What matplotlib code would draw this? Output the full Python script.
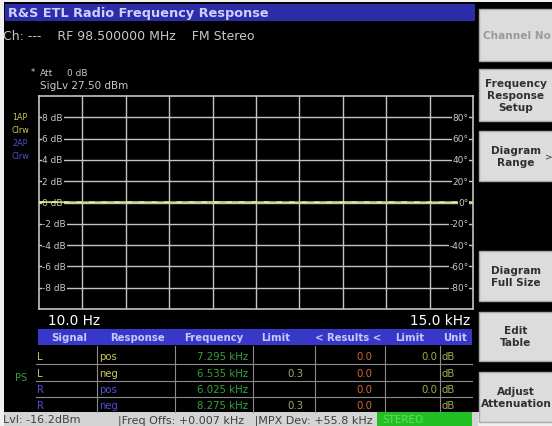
import matplotlib.pyplot as plt
from matplotlib.patches import Rectangle

W, H = 552, 427

# measured trace (frequency in Hz, level in dB)
freq_hz = [10, 500, 1500, 3000, 4500, 6000, 7500, 9000, 10500, 12000, 13500, 15000]
level_l = [0.05, 0.03, 0.02, 0.04, 0.02, 0.05, 0.03, 0.02, 0.04, 0.03, 0.02, 0.03]
level_r = [0.03, 0.04, 0.03, 0.02, 0.04, 0.03, 0.05, 0.03, 0.02, 0.04, 0.03, 0.02]

db_ticks = [8, 6, 4, 2, 0, -2, -4, -6, -8]
phase_ticks = [80, 60, 40, 20, 0, -20, -40, -60, -80]

tbl_header = ["Signal", "Response", "Frequency", "Limit", "< Results <", "Limit", "Unit"]
tbl_signal = ["L", "L", "R", "R"]
tbl_response = ["pos", "neg", "pos", "neg"]
tbl_freq = ["7.295 kHz", "6.535 kHz", "6.025 kHz", "8.275 kHz"]
tbl_limit_lo = ["", "0.3", "", "0.3"]
tbl_result = ["0.0", "0.0", "0.0", "0.0"]
tbl_limit_hi = ["0.0", "", "0.0", ""]
tbl_unit = ["dB", "dB", "dB", "dB"]

softkeys = ["Channel No", "Frequency\nResponse\nSetup", "Diagram\nRange",
            "Diagram\nFull Size", "Edit\nTable", "Adjust\nAttenuation"]
softkey_y = [(10, 62), (70, 122), (132, 182), (252, 302), (313, 362), (373, 423)]

YEL = '#c8c858'
BLU = '#5050d0'
GRN = '#3aa03a'
ORG = '#c86a38'
TXT = '#c8c8c8'

fig = plt.figure(figsize=(W / 100, H / 100), dpi=100, facecolor='#f0f0f0')

# screen chrome in pixel coordinates
ui = fig.add_axes([0, 0, 1, 1], zorder=0)
ui.set_xlim(0, W)
ui.set_ylim(H, 0)
ui.axis('off')

def rect(x0, y0, x1, y1, **kw):
    ui.add_patch(Rectangle((x0, y0), x1 - x0, y1 - y0, **kw))

rect(4, 3, W, 413, color='black', lw=0)
rect(5, 5, 475, 22, color='#2c2ca8', lw=0)
ui.text(8, 14, "R&S ETL Radio Frequency Response", color='#d0d0ff', fontsize=9.3,
        fontweight='bold', va='center')

# channel line
ui.text(3, 36, "Ch: ---    RF 98.500000 MHz    FM Stereo", color=TXT, fontsize=9,
        va='center')

ui.text(31, 72, "*", color='#d0d0d0', fontsize=6, va='center')
ui.text(40, 74, "Att", color=TXT, fontsize=6.5, va='center')
ui.text(67, 74, "0 dB", color=TXT, fontsize=6.5, va='center')
ui.text(40, 86, "SigLv 27.50 dBm", color=TXT, fontsize=7.5, va='center')

for y, s, c in [(118, "1AP", YEL), (131, "Clrw", YEL), (144, "2AP", BLU), (157, "Clrw", BLU)]:
    ui.text(12, y, s, color=c, fontsize=5.8, va='center')

ui.text(48, 321, "10.0 Hz", color='white', fontsize=9.8, va='center')
ui.text(470, 321, "15.0 kHz", color='white', fontsize=9.8, va='center', ha='right')

# softkeys
for label, (y0, y1) in zip(softkeys, softkey_y):
    rect(479, y0, W + 5, y1, facecolor='#dcdcdc', edgecolor='#a8a8a8', lw=1)
    grey = label == "Channel No"
    ui.text(483 if grey else 516, (y0 + y1) / 2, label,
            color='#9a9a9a' if grey else '#303030', fontsize=7.6, fontweight='bold',
            ha='left' if grey else 'center', va='center', linespacing=1.25, clip_on=True)
ui.text(549, 157, ">", color='#303030', fontsize=6.5, va='center', ha='center')

# table
rect(38, 330, 472, 346, color='#3838c8', lw=0)
head_x = [69, 137, 214, 276, 348, 410, 455]
for x, s in zip(head_x, tbl_header):
    ui.text(x, 338, s, color='#c8c8ff', fontsize=7.3, fontweight='bold', ha='center', va='center')
row_y = [357, 374, 390, 406]
for y in [365, 382, 398]:
    ui.plot([36, 472], [y, y], color='#8c8c8c', lw=0.8)
for x in [97, 175, 253, 315, 385, 440]:
    ui.plot([x, x], [347, 413], color='#8c8c8c', lw=0.8)
for i, y in enumerate(row_y):
    c = YEL if tbl_signal[i] == "L" else BLU
    ui.text(37, y, tbl_signal[i], color=c, fontsize=7.3, va='center')
    ui.text(99, y, tbl_response[i], color=c, fontsize=7.3, va='center')
    ui.text(248, y, tbl_freq[i], color=GRN, fontsize=7.3, va='center', ha='right')
    ui.text(303, y, tbl_limit_lo[i], color='#a8a870', fontsize=7.3, va='center', ha='right')
    ui.text(372, y, tbl_result[i], color=ORG, fontsize=7.3, va='center', ha='right')
    ui.text(437, y, tbl_limit_hi[i], color='#a8a850', fontsize=7.3, va='center', ha='right')
    ui.text(442, y, tbl_unit[i], color='#a8a850', fontsize=7.3, va='center')
ui.text(15, 378, "PS", color=GRN, fontsize=7, va='center')

# status bar
rect(4, 413, 478, H, color='#d4d4d4', lw=0)
rect(377, 413, 472, H, color='#22c022', lw=0)
ui.text(3, 420.5, "Lvl: -16.2dBm", color='#404040', fontsize=8, va='center')
ui.text(118, 420.5, "|Freq Offs: +0.007 kHz   |MPX Dev: +55.8 kHz", color='#404040',
        fontsize=8, va='center')
ui.text(382, 420.5, "STEREO", color='#60e060', fontsize=7.5, va='center')

# diagram
ax = fig.add_axes([39 / W, (H - 310) / H, 434 / W, 213 / H], zorder=1)
ax.set_facecolor('black')
ax.set_xlim(freq_hz[0], freq_hz[-1])
ax.set_ylim(-10, 10)
span = freq_hz[-1] - freq_hz[0]
for k in range(1, 10):
    ax.axvline(freq_hz[0] + span * k / 10, color='#c4c4c4', lw=1)
for t in db_ticks:
    ax.axhline(t, color='#c4c4c4', lw=1)
for sp in ax.spines.values():
    sp.set_color('#c4c4c4')
    sp.set_linewidth(1.2)
ax.set_xticks([])
ax.set_yticks([])

ph = ax.twinx()
ph.set_ylim(-100, 100)
ph.axis('off')

for t in db_ticks:
    ax.text(0.008, t, f"{t} dB", transform=ax.get_yaxis_transform(), color=TXT,
            fontsize=6.5, va='center', ha='left', zorder=3,
            bbox=dict(facecolor='black', edgecolor='none', pad=0.6))
for t in phase_ticks:
    ph.text(0.99, t, f"{t}°", transform=ph.get_yaxis_transform(), color=TXT,
            fontsize=6.5, va='center', ha='right', zorder=3,
            bbox=dict(facecolor='black', edgecolor='none', pad=0.6))

ax.plot(freq_hz, level_l, color='#d8d860', lw=1.3, zorder=4)
ax.plot(freq_hz, level_r, color='#e8f0c0', lw=1.0, dashes=(4, 5), zorder=5)

fig.savefig('out.png', dpi=100, facecolor=fig.get_facecolor())
